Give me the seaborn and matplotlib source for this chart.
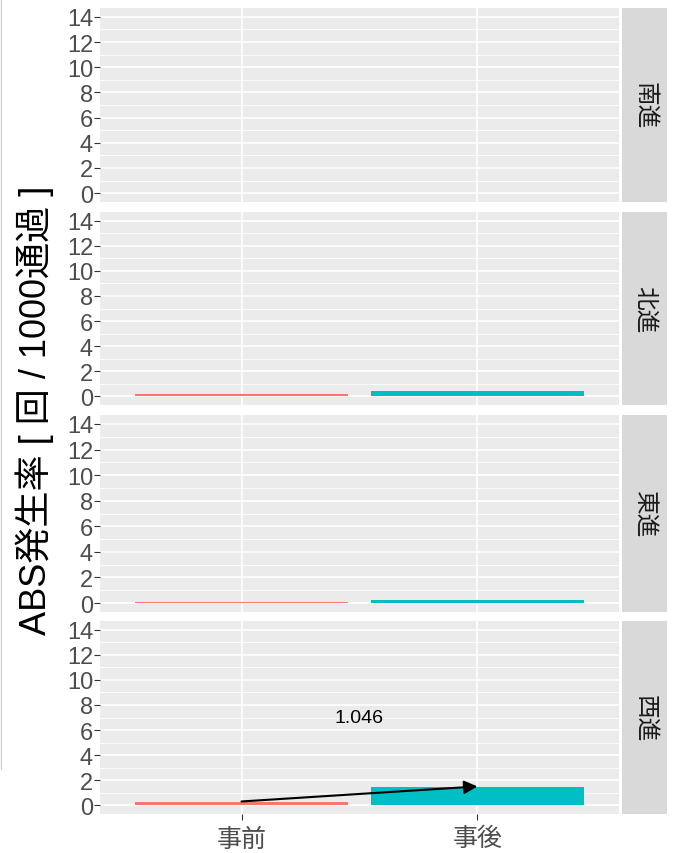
import pandas as pd
import seaborn as sns
import matplotlib.pyplot as plt
from matplotlib.lines import Line2D

# データ
directions = ['南進', '北進', '東進', '西進']
phases = ['事前', '事後']
rate_before = [0.0, 0.16, 0.1, 0.25]
rate_after = [0.0, 0.42, 0.2, 1.42]
y_ticks = [0, 2, 4, 6, 8, 10, 12, 14]
arrow_from = 0.3
arrow_to = 1.5
arrow_label = '1.046'
label_y = 7

colors = {'事前': '#F8766D', '事後': '#00BFC4'}

sns.set_style('white')
plt.rcParams['font.family'] = ['Liberation Sans', 'Noto Sans CJK JP', 'DejaVu Sans']

W, H = 674, 854
fig = plt.figure(figsize=(W / 100, H / 100), dpi=100)

panels = [(9, 203), (213, 406), (416, 613), (622, 815)]
x0, x1 = 100, 619
s0, s1 = 622, 667

for i, d in enumerate(directions):
    top, bot = panels[i]
    ax = fig.add_axes([x0 / W, 1 - bot / H, (x1 - x0) / W, (bot - top) / H])
    df = pd.DataFrame({'phase': phases, 'rate': [rate_before[i], rate_after[i]]})
    ax.set_facecolor('#EBEBEB')
    # グリッド
    for v in range(1, 14, 2):
        ax.axhline(v, color='white', lw=0.6, zorder=0)
    for v in y_ticks:
        ax.axhline(v, color='white', lw=1.2, zorder=0)
    for v in [0, 1]:
        ax.axvline(v, color='white', lw=1.2, zorder=0)
    sns.barplot(data=df, x='phase', y='rate', hue='phase', order=phases,
                hue_order=phases, palette=colors, width=0.905, legend=False,
                saturation=1, linewidth=0, edgecolor='none', ax=ax, zorder=2)
    ax.set_xlim(-0.6, 1.6)
    ax.set_ylim(-0.7, 14.7)
    ax.set_yticks(y_ticks)
    ax.set_xlabel('')
    ax.set_ylabel('')
    for sp in ax.spines.values():
        sp.set_visible(False)
    ax.tick_params(axis='y', left=True, length=4, width=0.8, color='#333333',
                   labelsize=17, labelcolor='#4D4D4D', pad=1)
    if i == len(directions) - 1:
        ax.tick_params(axis='x', bottom=True, length=4, width=0.8, color='#333333',
                       labelsize=18, labelcolor='#4D4D4D', pad=5)
        ax.annotate('', xy=(1, arrow_to), xytext=(0, arrow_from),
                    arrowprops=dict(arrowstyle='-|>', color='black', lw=1.5,
                                    mutation_scale=20, shrinkA=0, shrinkB=0),
                    zorder=5)
        ax.text(0.5, label_y, arrow_label, ha='center', va='center', fontsize=14,
                color='black')
    else:
        ax.tick_params(axis='x', bottom=False, labelbottom=False)

    # ストリップ
    sax = fig.add_axes([s0 / W, 1 - bot / H, (s1 - s0) / W, (bot - top) / H])
    sax.set_facecolor('#D9D9D9')
    sax.set_xticks([])
    sax.set_yticks([])
    for sp in sax.spines.values():
        sp.set_visible(False)
    sax.text(0.5, 0.5, d, rotation=-90, ha='center', va='center', fontsize=17,
             color='#1A1A1A', transform=sax.transAxes)

fig.text(35 / W, 1 - 410 / H, 'ABS発生率 [ 回 / 1000通過 ]', rotation=90,
         ha='center', va='center', fontsize=26, color='black')

fig.add_artist(Line2D([1 / W, 1 / W], [1 - 770 / H, 1], color='#D0D0D0', lw=1))

fig.savefig('out.png', dpi=100)
